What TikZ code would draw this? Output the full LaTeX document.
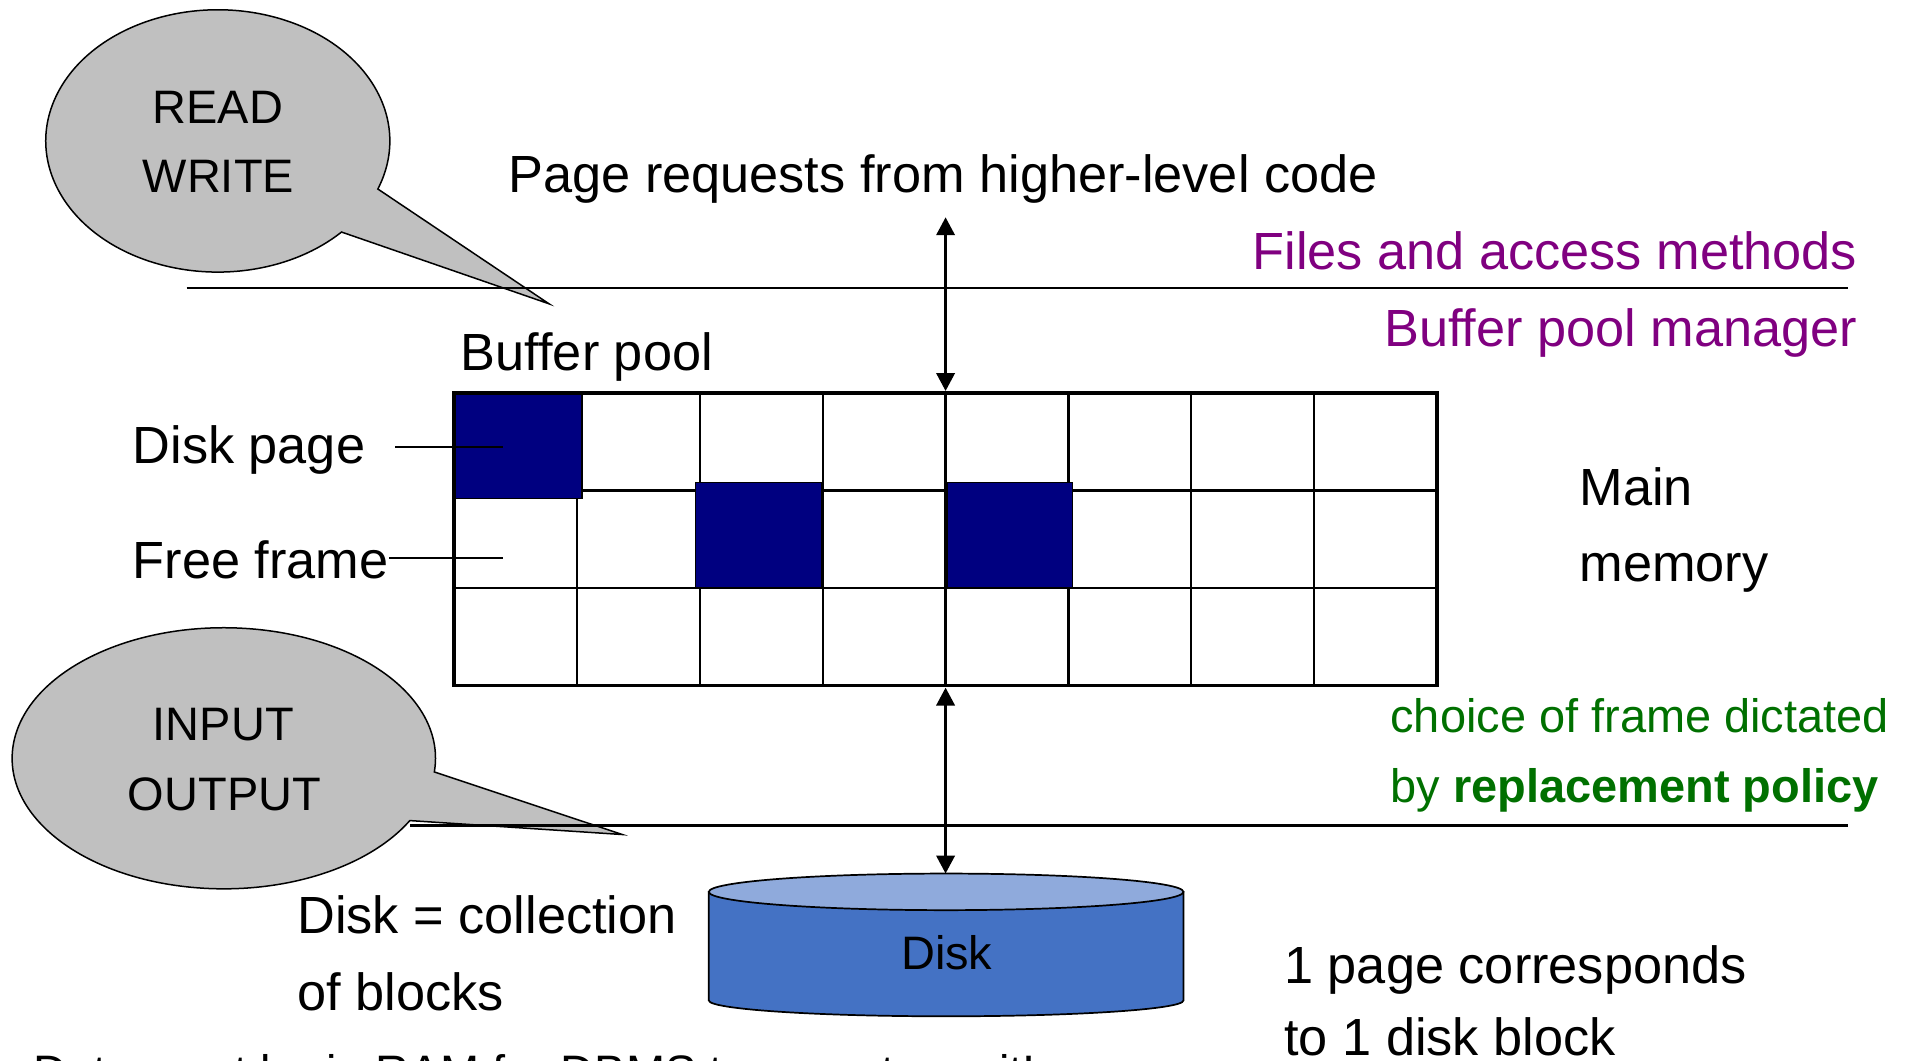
\documentclass[tikz,border=0pt]{standalone}
\usepackage{fontspec}
\setmainfont{Liberation Sans}
\usepackage{tikz}
\usepackage{xcolor}
\usetikzlibrary{positioning,arrows.meta}
\definecolor{bubblegray}{RGB}{192,192,192}
\definecolor{framenavy}{RGB}{0,0,128}
\definecolor{diskbody}{RGB}{68,114,196}
\definecolor{disklid}{RGB}{143,170,220}
\definecolor{layerpurple}{RGB}{128,0,128}
\definecolor{policygreen}{RGB}{0,112,0}

\begin{document}
\begin{tikzpicture}[scale=0.1]
\tikzstyle{every node}+=[inner sep=0pt]
\tikzstyle{bigtext}=[font=\fontsize{12.2}{14}\selectfont]
\tikzstyle{smalltext}=[font=\fontsize{10.95}{13}\selectfont]
\tikzstyle{bubble}=[draw=black, fill=bubblegray, line width=0.35pt]
\tikzstyle{gridline}=[line width=0.5pt]
\tikzstyle{layerline}=[line width=0.55pt]
\tikzstyle{pagebox}=[draw=black, fill=framenavy, line width=0.4pt]
\tikzstyle{transfer}=[line width=0.85pt, <->, >={Triangle[width=4.2pt,length=4.2pt]}]
\useasboundingbox (0,0) rectangle (156.8,-86.9);
\filldraw[bubble] (30.97,-15.49) arc[start angle=-21.5, end angle=316, x radius=14.1, y radius=10.75] -- (45.0,-24.9) -- cycle;
\node (read) [smalltext, anchor=base] at (17.85,-10.1) {READ};
\node (write) [smalltext, anchor=base] at (17.9,-15.8) {WRITE};
\filldraw[bubble] (35.60,-63.27) arc[start angle=-6, end angle=331.5, x radius=17.35, y radius=10.7] -- (51.0,-68.4) -- cycle;
\node (input) [smalltext, anchor=base] at (18.3,-60.7) {INPUT};
\node (output) [smalltext, anchor=base] at (18.4,-66.4) {OUTPUT};
\draw[layerline] (15.3,-23.6) -- (151.5,-23.6);
\draw[layerline] (33.6,-67.65) -- (151.5,-67.65);
\node (requests) [bigtext, anchor=base west] at (41.6,-15.8) {Page requests from higher-level code};
\node (files) [bigtext, anchor=base east, text=layerpurple] at (152.3,-22.1) {Files and access methods};
\node (manager) [bigtext, anchor=base east, text=layerpurple] at (152.3,-28.4) {Buffer pool manager};
\node (bufferpool) [bigtext, anchor=base west] at (37.7,-30.4) {Buffer pool};
\draw[gridline] (47.275,-32.2) -- (47.275,-56.2);
\draw[gridline] (57.35,-32.2) -- (57.35,-56.2);
\draw[gridline] (67.425,-32.2) -- (67.425,-56.2);
\draw[gridline] (77.5,-32.2) -- (77.5,-56.2);
\draw[gridline] (87.575,-32.2) -- (87.575,-56.2);
\draw[gridline] (97.65,-32.2) -- (97.65,-56.2);
\draw[gridline] (107.725,-32.2) -- (107.725,-56.2);
\draw[gridline] (37.2,-40.2) -- (117.8,-40.2);
\draw[gridline] (37.2,-48.2) -- (117.8,-48.2);
\filldraw[pagebox] (37.1,-32.2) rectangle (47.7,-40.85);
\filldraw[pagebox] (57.0,-39.55) rectangle (67.4,-48.2);
\filldraw[pagebox] (77.6,-39.55) rectangle (87.9,-48.2);
\node (pool) [draw, line width=0.85pt, minimum width=80.6mm, minimum height=24mm] at (77.5,-44.2) {};
\node (diskpage) [bigtext, anchor=base west] at (10.8,-38.0) {Disk page};
\node (freeframe) [bigtext, anchor=base west] at (10.8,-47.4) {Free frame};
\coordinate (dp) at (41.2,-36.6);
\coordinate (ff) at (41.2,-45.7);
\draw[line width=0.45pt] (diskpage.east |- dp) ++(2.4,0) -- (dp);
\draw[line width=0.45pt] (freeframe.east |- ff) -- (ff);
\node (main) [bigtext, anchor=base west] at (129.4,-41.4) {Main};
\node (memory) [bigtext, anchor=base west] at (129.4,-47.7) {memory};
\node (choice) [smalltext, anchor=base west, text=policygreen] at (113.9,-60.0) {choice of frame dictated};
\node (policy) [smalltext, anchor=base west, text=policygreen] at (113.9,-65.8) {by \textbf{replacement policy}};
\filldraw[fill=diskbody, line width=0.4pt] (58.1,-73.1) -- (58.1,-82.0) arc[start angle=180, end angle=360, x radius=19.45, y radius=1.3] -- (97.0,-73.1) -- cycle;
\filldraw[fill=disklid, line width=0.4pt] (77.55,-73.1) ellipse [x radius=19.45, y radius=1.5];
\coordinate (disktop) at (77.5,-71.6);
\node (disk) [smalltext, anchor=base] at (77.6,-79.5) {Disk};
\coordinate (req) at (77.5,-17.8);
\draw[transfer] (req) -- (pool.north);
\draw[transfer] (pool.south) -- (disktop);
\node (collection) [bigtext, anchor=base west] at (24.3,-76.5) {Disk = collection};
\node (blocks) [bigtext, anchor=base west] at (24.3,-82.8) {of blocks};
\node (corresponds) [bigtext, anchor=base west] at (105.2,-80.6) {1 page corresponds};
\node (diskblock) [bigtext, anchor=base west] at (105.2,-86.5) {to 1 disk block};
\node (ramnote) [smalltext, anchor=base west] at (2.7,-89.2) {Data must be in RAM for DBMS to operate on it!};
\end{tikzpicture}
\end{document}
